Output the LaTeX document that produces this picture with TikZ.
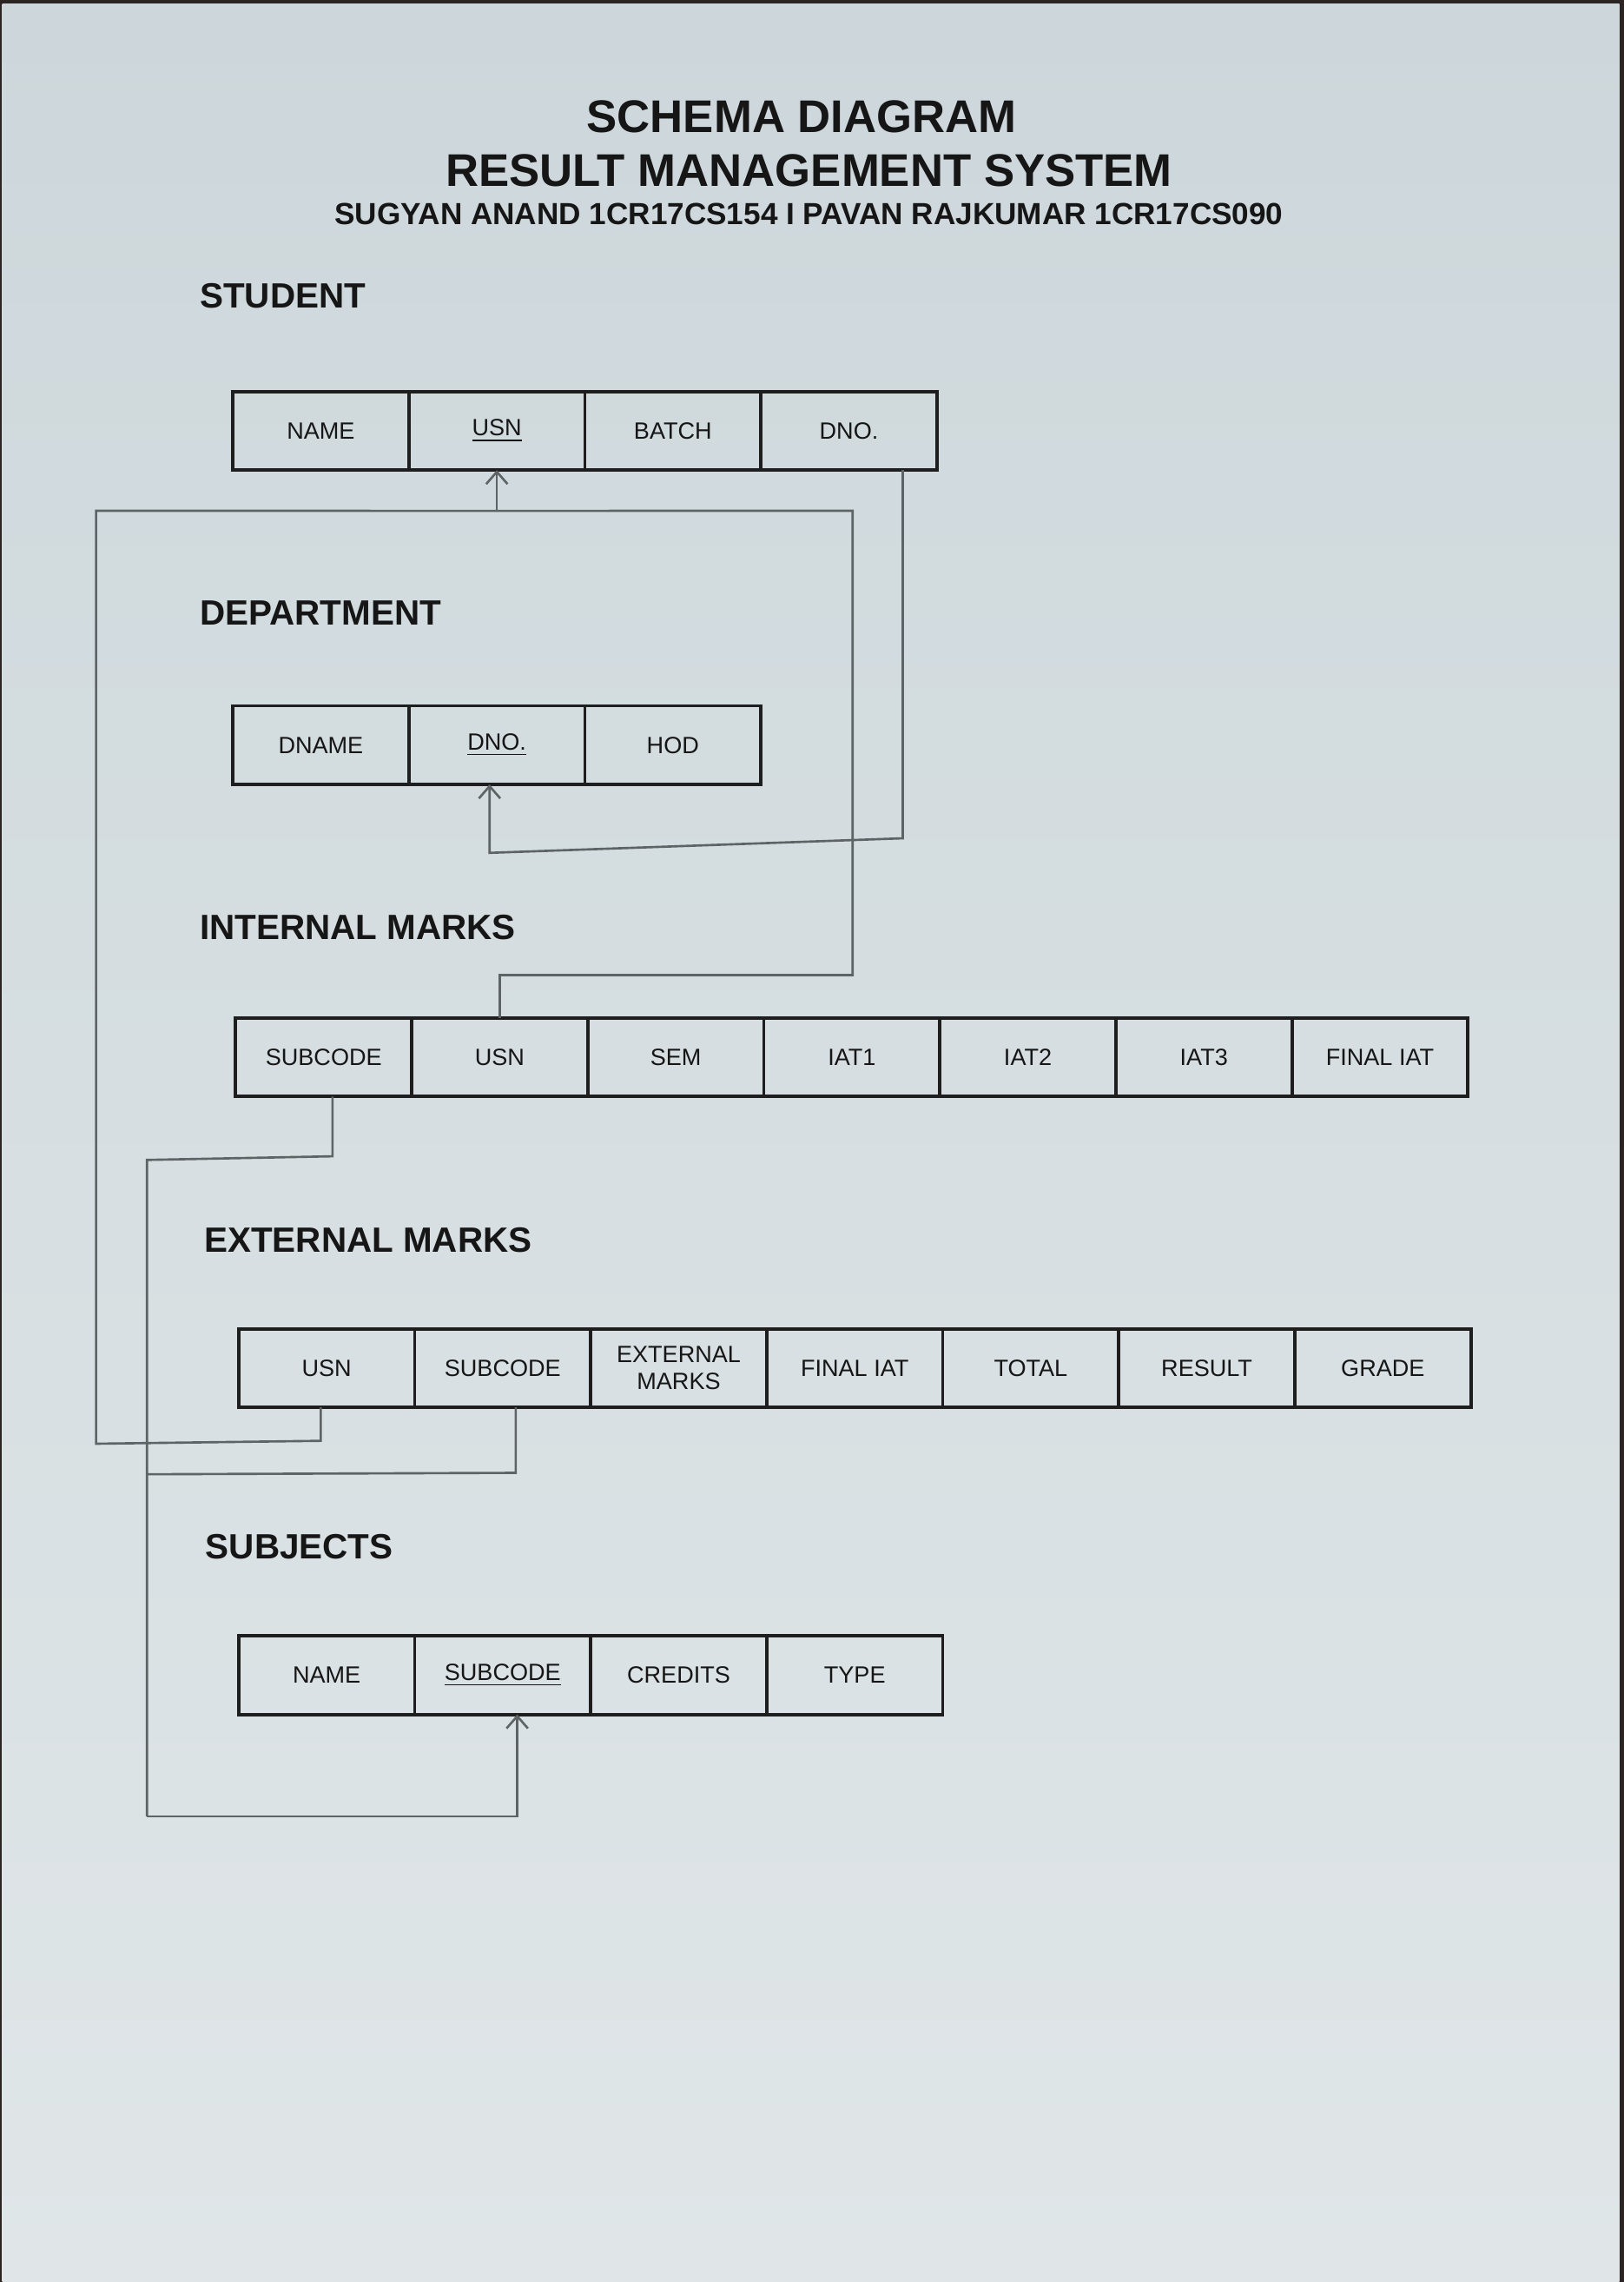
\documentclass[tikz,border=0pt]{standalone}
\usepackage{fontspec}
\setmainfont{Liberation Sans}
\usetikzlibrary{positioning,calc,arrows.meta}
\definecolor{ink}{HTML}{161616}
\definecolor{tblline}{HTML}{1E1E1E}
\definecolor{pencil}{HTML}{5E6365}
\definecolor{paperA}{HTML}{CDD7DB}
\definecolor{paperB}{HTML}{E0E6E8}
\definecolor{edge}{HTML}{2B2423}
\tikzset{
  attr/.style={draw=tblline, line width=1.1pt, minimum width=2.027cm, minimum height=0.905cm, inner sep=0pt, outer sep=0pt, text=ink, align=center, font=\fontsize{7.7}{8.6}\selectfont},
  tblhead/.style={anchor=west, inner sep=0pt, text=ink, font=\bfseries\fontsize{11.5}{13}\selectfont},
  fk/.style={draw=pencil, line width=0.75pt},
  fkarrow/.style={fk, -{Straight Barb[length=4pt, width=7pt]}}
}

\begin{document}
\begin{tikzpicture}[x=0.016756cm, y=-0.016756cm]
\useasboundingbox (0,0) rectangle (1116,1568);
\fill[edge] (0,0) rectangle (1116,1568);
\shade[top color=paperA, bottom color=paperB] (1.5,2.5) rectangle (1113,1567.5);

\node[text=ink, font=\bfseries\fontsize{15}{17}\selectfont] (title) at (551,80) {SCHEMA DIAGRAM};
\node[text=ink, font=\bfseries\fontsize{15}{17}\selectfont] (system) at (556,117) {RESULT MANAGEMENT SYSTEM};
\node[text=ink, font=\bfseries\fontsize{10}{12}\selectfont] (authors) at (556,147) {SUGYAN ANAND 1CR17CS154 I PAVAN RAJKUMAR 1CR17CS090};

\node[tblhead] (lstudent) at (137,203) {STUDENT};
\node[attr, anchor=west] (stu-name) at (160,296) {NAME};
\node[attr, right=0pt of stu-name] (stu-usn) {\underline{USN}};
\node[attr, right=0pt of stu-usn] (stu-batch) {BATCH};
\node[attr, right=0pt of stu-batch] (stu-dno) {DNO.};

\node[tblhead] (ldept) at (137,421) {DEPARTMENT};
\node[attr, anchor=west] (dept-dname) at (160,512) {DNAME};
\node[attr, right=0pt of dept-dname] (dept-dno) {\underline{DNO.}};
\node[attr, right=0pt of dept-dno] (dept-hod) {HOD};

\node[tblhead] (linternal) at (137,637) {INTERNAL MARKS};
\node[attr, anchor=west] (im-sub) at (162,726.5) {SUBCODE};
\node[attr, right=0pt of im-sub] (im-usn) {USN};
\node[attr, right=0pt of im-usn] (im-sem) {SEM};
\node[attr, right=0pt of im-sem] (im-iat1) {IAT1};
\node[attr, right=0pt of im-iat1] (im-iat2) {IAT2};
\node[attr, right=0pt of im-iat2] (im-iat3) {IAT3};
\node[attr, right=0pt of im-iat3] (im-final) {FINAL IAT};

\node[tblhead] (lexternal) at (140,852) {EXTERNAL MARKS};
\node[attr, anchor=west] (em-usn) at (164,940) {USN};
\node[attr, right=0pt of em-usn] (em-sub) {SUBCODE};
\node[attr, right=0pt of em-sub] (em-ext) {EXTERNAL\\MARKS};
\node[attr, right=0pt of em-ext] (em-final) {FINAL IAT};
\node[attr, right=0pt of em-final] (em-total) {TOTAL};
\node[attr, right=0pt of em-total] (em-result) {RESULT};
\node[attr, right=0pt of em-result] (em-grade) {GRADE};

\node[tblhead] (lsubjects) at (141,1063) {SUBJECTS};
\node[attr, anchor=west] (subj-name) at (164,1151) {NAME};
\node[attr, right=0pt of subj-name] (subj-sub) {\underline{SUBCODE}};
\node[attr, right=0pt of subj-sub] (subj-credits) {CREDITS};
\node[attr, right=0pt of subj-credits] (subj-type) {TYPE};

\coordinate (usnbus) at ($(stu-usn.south)+(0,28)$);
\coordinate (subbus) at (101,1248);
\draw[fk] (im-usn.north) |- (586,670) -- (586,351) -- (usnbus);
\draw[fk] ($(em-usn.south)+(-4,0)$) -- ++(0,23) -- (66,992) -- (66,351) -- (usnbus);
\draw[fkarrow] (usnbus) -- (stu-usn.south);
\draw[fkarrow] ($(stu-dno.south)+(37,0)$) -- ++(0,253) -- ($(dept-dno.south)+(-5,47)$) -- ($(dept-dno.south)+(-5,0)$);
\draw[fk] ($(im-sub.south)+(6,0)$) -- ++(0,41) -- (101,797) -- (subbus);
\draw[fk] ($(em-sub.south)+(9,0)$) -- ++(0,45) -- (101,1013);
\draw[fkarrow] (subbus) -| ($(subj-sub.south)+(10,0)$);
\end{tikzpicture}
\end{document}
